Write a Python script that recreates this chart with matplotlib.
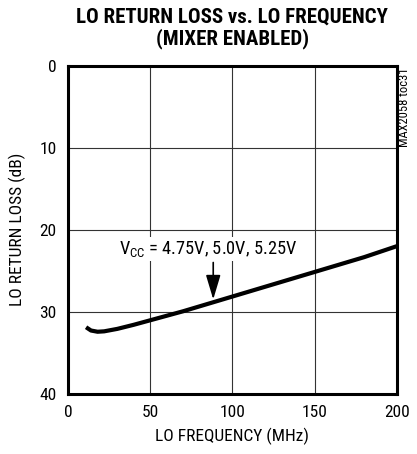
import matplotlib
matplotlib.use("Agg")
import matplotlib.pyplot as plt

cond = "Roboto Condensed"
plt.rcParams["mathtext.fontset"] = "custom"
plt.rcParams["mathtext.rm"] = cond
plt.rcParams["mathtext.it"] = cond
plt.rcParams["mathtext.bf"] = cond
plt.rcParams["font.family"] = [cond, "DejaVu Sans"]

freq = [11, 14, 18, 22, 30, 40, 50, 60, 70, 80, 90, 100, 120, 140, 160, 180, 200]
rl = [31.9, 32.3, 32.45, 32.4, 32.1, 31.6, 31.05, 30.5, 29.95, 29.35, 28.75, 28.15, 26.95, 25.75, 24.55, 23.35, 22.0]

xticks = [0, 50, 100, 150, 200]
yticks = [0, 10, 20, 30, 40]

fig = plt.figure(figsize=(4.17, 4.54), dpi=100)
ax = fig.add_axes([0.163, 0.133, 0.789, 0.722])
ax.set_xlim(0, 200)
ax.set_ylim(40, 0)
ax.set_xticks(xticks)
ax.set_yticks(yticks)
ax.grid(True, color="#333333", linewidth=0.8)
ax.tick_params(length=0, pad=8, labelsize=12.5)
for s in ax.spines.values():
    s.set_linewidth(2.2)

ax.plot(freq, rl, color="black", linewidth=3, solid_capstyle="butt")

ax.set_xlabel("LO FREQUENCY (MHz)", fontsize=12.5, labelpad=6)
ax.set_ylabel("LO RETURN LOSS (dB)", fontsize=12.5, labelpad=10)

fig.text(0.557, 0.962, "LO RETURN LOSS vs. LO FREQUENCY", ha="center", va="center",
         fontweight="bold", fontsize=15)
fig.text(0.557, 0.915, "(MIXER ENABLED)", ha="center", va="center",
         fontweight="bold", fontsize=15)

ax.text(85, 22.3, r"V$_{\mathregular{CC}}$ = 4.75V, 5.0V, 5.25V", ha="center", va="center",
        fontsize=13.2,
        bbox=dict(facecolor="white", edgecolor="none", pad=1.5))
ax.annotate("", xy=(88.3, 28.5), xytext=(88.3, 24.0),
            arrowprops=dict(arrowstyle="-|>,head_width=0.45,head_length=1.5",
                            color="black", lw=1.2, shrinkA=0, shrinkB=0,
                            mutation_scale=10))

fig.text(0.971, 0.852, "MAX2058 toc31", rotation=90, ha="center", va="top",
         fontsize=9)

fig.savefig("out.png", dpi=100)
